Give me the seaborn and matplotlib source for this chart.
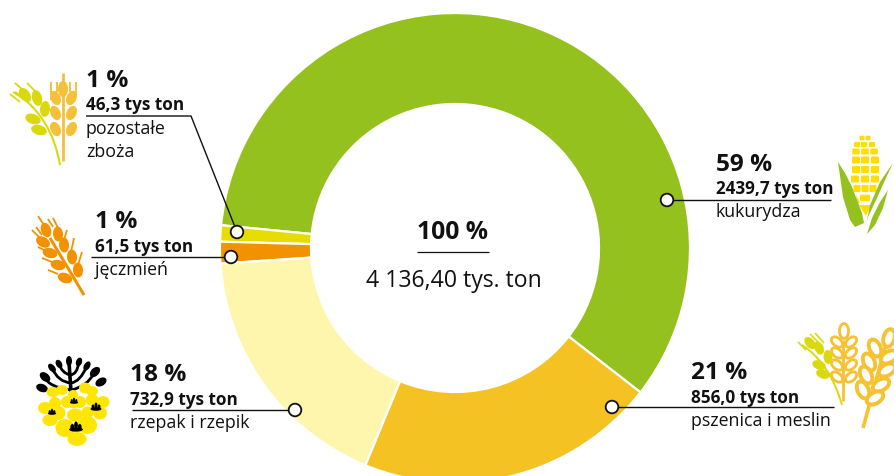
import matplotlib
matplotlib.use("Agg")
import matplotlib.pyplot as plt
from matplotlib.patches import Ellipse, Polygon, Circle, PathPatch, FancyBboxPatch
from matplotlib.path import Path
import seaborn as sns

sns.set_theme(style="white")
plt.rcParams["font.family"] = ["Open Sans", "DejaVu Sans"]

categories = ["kukurydza", "pozostałe zboża", "jęczmień", "rzepak i rzepik", "pszenica i meslin"]
values = [2439.7, 46.3, 61.5, 732.9, 856.0]
colors = ["#95C11F", "#E6DC00", "#F39200", "#FFF6AD", "#F4C223"]
percents = ["59 %", "1 %", "1 %", "18 %", "21 %"]
amounts = ["2439,7 tys ton", "46,3 tys ton", "61,5 tys ton", "732,9 tys ton", "856,0 tys ton"]
center_top = "100 %"
center_bottom = "4 136,40 tys. ton"

H = 476
fig = plt.figure(figsize=(8.95, 4.76), dpi=100)
ax = fig.add_axes([0, 0, 1, 1])

def P(x, y):
    return (x, H - y)

ax.pie(values, colors=colors, startangle=-37.9, counterclock=True, radius=235,
       center=P(455, 248), frame=True,
       wedgeprops=dict(width=91, edgecolor="white", linewidth=1.6))
ax.set_xlim(0, 895)
ax.set_ylim(0, H)
ax.set_aspect("equal")
ax.axis("off")

BLACK = "#111111"

def leaf(x, y, w, h, angle, color, z=3):
    ax.add_patch(Ellipse(P(x, y), w, h, angle=-angle, facecolor=color, edgecolor="none", zorder=z))

def stroke(pts, color, lw=1.5, z=3):
    xs, ys = zip(*[P(*p) for p in pts])
    ax.plot(xs, ys, color=color, lw=lw, solid_capstyle="butt", zorder=z)

def curve(p0, p1, p2, color, lw=1.5, z=3):
    path = Path([P(*p0), P(*p1), P(*p2)], [Path.MOVETO, Path.CURVE3, Path.CURVE3])
    ax.add_patch(PathPatch(path, facecolor="none", edgecolor=color, lw=lw, zorder=z))

def poly(pts, color, z=3):
    ax.add_patch(Polygon([P(*p) for p in pts], closed=True, facecolor=color, edgecolor="none", zorder=z))

def label(x, y_pct, y_amt, y_name, pct, amt, names):
    ax.text(*P(x, y_pct), pct, fontsize=17.6, fontweight="bold", color=BLACK, va="baseline", ha="left")
    ax.text(*P(x, y_amt), amt, fontsize=12.3, fontweight="bold", color=BLACK, va="baseline", ha="left")
    for i, n in enumerate(names):
        ax.text(*P(x, y_name + i * 23), n, fontsize=12.8, color=BLACK, va="baseline", ha="left")

def leader(pts, end):
    stroke(pts, BLACK, lw=1.0, z=4)
    ax.add_patch(Circle(P(*end), 6.3, facecolor="white", edgecolor=BLACK, lw=1.3, zorder=5))

# labels
label(716, 171, 194, 217, percents[0], amounts[0], ["kukurydza"])
label(86, 87, 110, 134, percents[1], amounts[1], ["pozostałe", "zboża"])
label(95, 228, 252, 275, percents[2], amounts[2], ["jęczmień"])
label(130, 381, 405, 428, percents[3], amounts[3], ["rzepak i rzepik"])
label(691, 379, 403, 426, percents[4], amounts[4], ["pszenica i meslin"])

# leaders
leader([(667, 200), (831, 200)], (667, 200))
leader([(86, 116), (191, 116), (237, 232)], (237, 232))
leader([(91, 257), (231, 257)], (231, 257))
leader([(132, 410), (295, 410)], (295, 410))
leader([(612, 407), (834, 407)], (612, 407))

# centre
ax.text(*P(453, 239), center_top, fontsize=17.8, fontweight="bold", color=BLACK, ha="center", va="baseline")
stroke([(417, 252), (489, 252)], BLACK, lw=0.9)
ax.text(*P(453.5, 287), center_bottom, fontsize=16.6, color=BLACK, ha="center", va="baseline")

# --- icon: other cereals
GOLD = "#F6C13A"; LIME = "#DAD90E"
stroke([(63, 73), (63, 161)], GOLD, lw=2)
leaf(63, 89, 16, 10, 90, GOLD)
for y in (98, 113, 129):
    leaf(55.5, y, 15, 10, 65, GOLD)
    leaf(71.5, y, 15, 10, -65, GOLD)
for x, y0, y1 in [(51, 82, 100), (57, 82, 92), (70, 82, 92), (76, 82, 96)]:
    stroke([(x, y0), (x, y1)], GOLD, lw=1.4)
curve((60, 165), (52, 117), (15, 92), LIME, 1.5)
for x, y, a in [(25, 95, 55), (37, 98, 75), (45, 109, 95), (33, 119, 20), (39, 130, 15)]:
    leaf(x, y, 16, 10, a, LIME)
for a, b in [((15, 83), (23, 90)), ((27, 83), (36, 92)), ((10, 94), (20, 102)), ((13, 92), (22, 98))]:
    stroke([a, b], LIME, 1.3)

# --- icon: barley
OR = "#F39200"
stroke([(84, 295), (50, 238)], OR, lw=2.2)
for x, y, a in [(46, 230, 70), (58, 234, 85), (43, 242, 30), (64, 245, 85), (72, 257, 85), (78, 270, 85),
                (50, 253, 15), (58, 265, 15), (65, 278, 20)]:
    leaf(x, y, 15, 10, a, OR)
for a, b in [((38, 216), (46, 228)), ((48, 219), (53, 227)), ((53, 218), (58, 228)), ((32, 230), (40, 238)),
             ((36, 227), (42, 235)), ((38, 247), (44, 250)), ((42, 258), (52, 262)), ((48, 270), (58, 274)),
             ((67, 230), (64, 240)), ((74, 238), (71, 252)), ((82, 252), (78, 265))]:
    stroke([a, b], OR, 1.3)

# --- icon: rapeseed
stroke([(71, 392), (69, 362)], "black", lw=2.6)
for p0, p1, p2 in [((71, 390), (48, 387), (45, 377)), ((71, 390), (87, 387), (95, 372)),
                   ((71, 383), (58, 382), (52, 368)), ((71, 383), (80, 382), (87, 366)),
                   ((70, 375), (62, 373), (59, 364)), ((70, 375), (77, 375), (79, 362))]:
    curve(p0, p1, p2, "black", 2.0)
for x, y, w, h, a in [(69, 361, 10, 6, 90), (59, 364, 9, 6, 60), (79, 362, 9, 6, 110), (52, 368, 10, 6, 50),
                      (87, 366, 10, 6, 120), (45, 377, 12, 8, 40), (95, 372, 12, 8, 135), (42, 388, 12, 8, 20),
                      (101, 382, 12, 8, 150)]:
    leaf(x, y, w, h, a, "black")
YEL = "#FFE600"
for x, y, w, h in [(53, 392, 13, 10), (62, 390, 12, 10), (55, 403, 12, 12),
                   (67, 402, 12, 12), (73, 395, 10, 10), (80, 402, 12, 12), (73, 404, 14, 8),
                   (85, 388, 12, 11), (92, 391, 12, 10),
                   (92, 400, 13, 12), (103, 402, 13, 12), (88, 412, 13, 11), (100, 413, 14, 13),
                   (45, 408, 14, 12), (58, 413, 15, 14), (50, 420, 15, 12),
                   (75, 415, 16, 13), (65, 428, 19, 18), (87, 425, 20, 18), (77, 439, 19, 14)]:
    ax.add_patch(Ellipse(P(x, y), w, h, facecolor=YEL, edgecolor="none", zorder=3))
for x, y, s in [(74, 401, 0.75), (96, 407, 1.0), (52, 412, 0.75), (76, 427, 1.25)]:
    leaf(x, y + 2 * s, 11 * s, 3.5 * s, 0, "black", 4)
    leaf(x, y - 1.5 * s, 3 * s, 6 * s, 0, "black", 4)
    leaf(x - 3 * s, y, 3 * s, 5 * s, 0, "black", 4)
    leaf(x + 3 * s, y, 3 * s, 5 * s, 0, "black", 4)

# --- icon: corn
CORN = "#FFDD00"; GREEN = "#95C11F"
rows = [(138, [862, 868], 5, 4.5), (144.5, [857, 864, 872], 6, 5), (151.5, [856, 865, 874], 7.5, 6),
        (160, [856, 865, 875], 8, 7), (169.5, [856, 865, 875], 8, 7), (179, [855, 865, 875], 8, 7),
        (188.5, [857, 865, 873], 7, 7), (198, [865], 10, 6.5)]
for y, xs, w, h in rows:
    for x in xs:
        ax.add_patch(FancyBboxPatch(P(x - w / 2 + 1, y + h / 2 - 1), w - 2, h - 2,
                                    boxstyle="round,pad=1", facecolor=CORN, edgecolor="none", zorder=3))
poly([(859, 205), (871, 205), (866, 216)], CORN)
poly([(856, 194), (860, 203), (857, 203)], CORN)
poly([(838, 162), (845, 173), (852, 187), (862, 213), (864, 223), (855, 227), (850, 220), (843, 197)], GREEN, 4)
poly([(893, 163), (880, 182), (870, 205), (866, 225), (868, 217), (877, 198), (885, 180)], GREEN, 4)
poly([(888, 190), (880, 202), (872, 218), (867, 234), (875, 225), (883, 208)], GREEN, 4)

# --- icon: wheat
W = "#F6C232"
def kernel(x, y, a, w=13, h=8, lw=2.0):
    ax.add_patch(Ellipse(P(x, y), w, h, angle=-a, facecolor="white", edgecolor=W, lw=lw, zorder=3))
stroke([(843.5, 401), (843.5, 340)], W, 2)
for y in (342, 353, 365, 377):
    kernel(837, y, 40)
    kernel(851, y, -40)
kernel(844, 331, 90, 15, 9)
curve((842, 405), (830, 363), (802, 345), LIME, 1.4)
for x, y, a in [(810, 343, 50), (819, 348, 65), (828, 357, 85), (819, 365, 20), (823, 374, 20)]:
    leaf(x, y, 14, 9, a, LIME)
for a, b in [((798, 342), (806, 350)), ((810, 334), (818, 342)), ((815, 333), (824, 343))]:
    stroke([a, b], LIME, 1.2)
stroke([(863, 428), (872, 395), (890, 330)], W, 2.6)
kernel(889, 338, -75, 18, 11, 2.8)
for x, y in [(875, 348), (869, 362), (866, 375), (863, 390)]:
    kernel(x, y, 65, 18, 11, 2.8)
for x, y in [(889, 357), (887, 370), (881, 385), (875, 398)]:
    kernel(x, y, -30, 18, 11, 2.8)

fig.savefig("out.png", dpi=100)
